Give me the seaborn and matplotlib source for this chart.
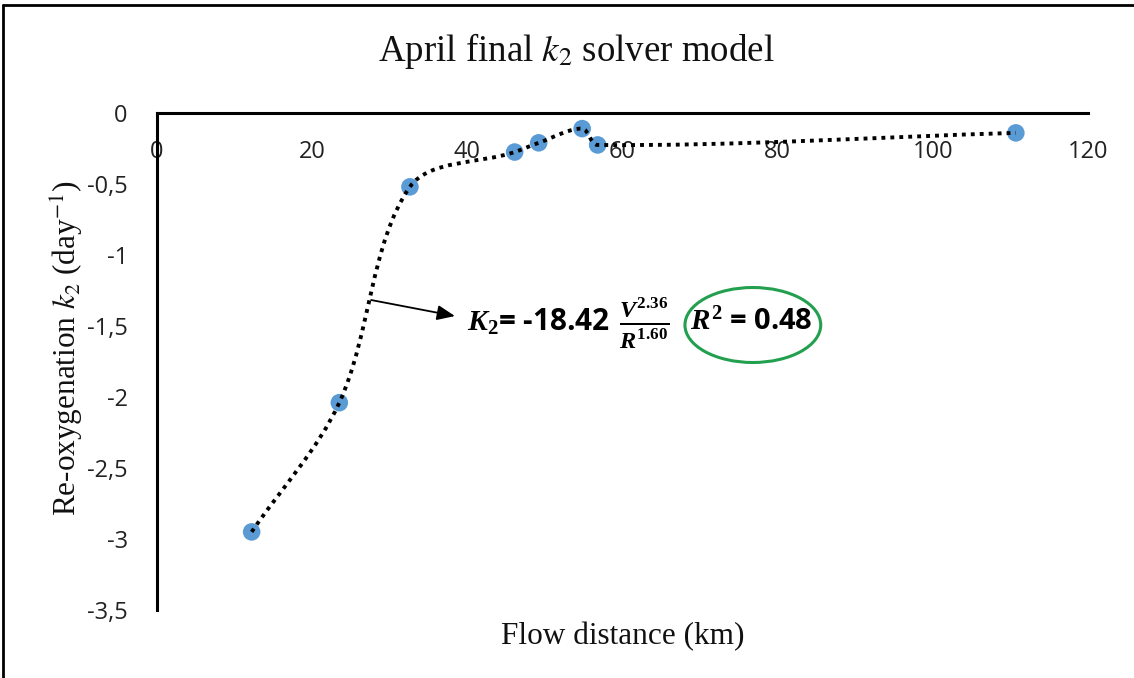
import numpy as np
import matplotlib
matplotlib.use("Agg")
import matplotlib.pyplot as plt
import seaborn as sns
from matplotlib.path import Path
from matplotlib.patches import PathPatch, Ellipse
from matplotlib.lines import Line2D
from matplotlib.ticker import FuncFormatter

# ---- data ----
distance_km = [12.2, 23.5, 32.6, 46.1, 49.2, 54.8, 56.8, 110.7]
k2_values = [-2.95, -2.04, -0.52, -0.275, -0.21, -0.11, -0.225, -0.14]
x_ticks = [0, 20, 40, 60, 80, 100, 120]
y_ticks = [0, -0.5, -1, -1.5, -2, -2.5, -3, -3.5]

title = "April final $k_2$ solver model"
xlabel = "Flow distance (km)"
ylabel = "Re-oxygenation $k_2$ (day$^{-1}$)"
formula_left = r"$K_2$= -18.42"
formula_frac = r"$\frac{V^{2.36}}{R^{1.60}}$"
formula_right = r"$R^2$ = 0.48"

sns.set_theme(style="white")
plt.rcParams['font.family'] = ['Open Sans', 'DejaVu Sans']
plt.rcParams['mathtext.fontset'] = 'custom'
plt.rcParams['mathtext.it'] = 'Liberation Serif:italic:bold'
plt.rcParams['mathtext.rm'] = 'Liberation Serif:bold'
plt.rcParams['mathtext.bf'] = 'Liberation Serif:italic:bold'

W, H = 1134, 678
fig = plt.figure(figsize=(W / 100, H / 100), dpi=100)
fig.patch.set_facecolor('white')
ax = fig.add_axes([157 / W, 1 - 610 / H, (1088 - 157) / W, (610 - 113) / H])
ax.set_xlim(0, 120)
ax.set_ylim(-3.5, 0)

# points
sns.scatterplot(x=distance_km, y=k2_values, color='#5B9BD5', s=160,
                edgecolor='none', zorder=3, ax=ax, legend=False)

# smoothed dotted line: Bezier through the data points (Excel-like smoothing),
# control points computed in display space with length-proportional tangents
disp = ax.transData.transform(np.column_stack([distance_km, k2_values]))
n = len(disp)
verts = [disp[0]]
codes = [Path.MOVETO]
for i in range(n - 1):
    p0 = disp[max(i - 1, 0)]
    p1 = disp[i]
    p2 = disp[i + 1]
    p3 = disp[min(i + 2, n - 1)]
    d01 = np.linalg.norm(p1 - p0)
    d12 = np.linalg.norm(p2 - p1)
    d23 = np.linalg.norm(p3 - p2)
    c1 = p1 + (p2 - p0) * (d12 / (d01 + d12)) / 3 if d01 > 0 else p1 + (p2 - p1) / 3
    c2 = p2 - (p3 - p1) * (d12 / (d12 + d23)) / 3 if d23 > 0 else p2 - (p2 - p1) / 3
    verts += [c1, c2, p2]
    codes += [Path.CURVE4] * 3
verts = ax.transData.inverted().transform(np.array(verts))
curve = PathPatch(Path(verts, codes), fill=False, edgecolor='black', lw=2.8,
                  linestyle=(0, (1, 1.3)), capstyle='butt', zorder=4)
ax.add_patch(curve)

ax.set_xticks(x_ticks)
ax.set_yticks(y_ticks)
fmt = FuncFormatter(lambda v, _: ('%g' % v).replace('.', ',') if abs(v) > 1e-9 else '0')
ax.xaxis.set_major_formatter(fmt)
ax.yaxis.set_major_formatter(fmt)
ax.tick_params(axis='both', length=0, labelsize=17, colors='#222222')
ax.tick_params(axis='x', pad=19.5)
ax.tick_params(axis='y', pad=21)

for s in ['right', 'top']:
    ax.spines[s].set_visible(False)
ax.spines['bottom'].set_position(('data', 0))
for s in ['left', 'bottom']:
    ax.spines[s].set_color('black')
    ax.spines[s].set_linewidth(2.2)
    ax.spines[s].set_zorder(6)

ax.set_xlabel(xlabel, fontsize=22.5, family='Liberation Serif', color='#111111')
ax.xaxis.set_label_coords(0.5, -0.054)
ax.xaxis.label.set_va('center')
ax.set_ylabel(ylabel, fontsize=22.5, family='Liberation Serif', color='#111111',
              math_fontfamily='stix')
ax.yaxis.set_label_coords(-0.0967, 0.527)
ax.yaxis.label.set_va('center')

ax.text(0.4505, (610 - 51) / 497, title, transform=ax.transAxes, fontsize=26.6,
        family='Liberation Serif', ha='center', va='center', color='#111111',
        math_fontfamily='stix')

# annotation
ax.annotate('', xy=(38.4, -1.43), xytext=(27.6, -1.317),
            arrowprops=dict(arrowstyle='-|>,head_length=0.9,head_width=0.38',
                            color='black', lw=1.3, shrinkA=0, shrinkB=0),
            zorder=5)
ax.text(39.96, -1.479, formula_left, fontsize=21.4, fontweight='bold', ha='left',
        va='center', color='black', math_fontfamily='custom', zorder=5)
ax.text(62.84, -1.479, formula_frac, fontsize=25, fontweight='bold', ha='center',
        va='center', color='black', math_fontfamily='custom', zorder=5)
ax.text(68.7, -1.479, formula_right, fontsize=21, fontweight='bold', ha='left',
        va='center', color='black', math_fontfamily='custom', zorder=5)
ax.add_patch(Ellipse((76.8, -1.493), width=17.5, height=0.528, fill=False,
                     edgecolor='#23A04F', lw=2.2, zorder=5))

# outer frame (left and top edges visible in the reference)
fig.add_artist(Line2D([3 / W, 3 / W], [0, 1 - 5 / H], color='black', lw=2,
                      transform=fig.transFigure))
fig.add_artist(Line2D([3 / W, 1], [1 - 5 / H, 1 - 5 / H], color='black', lw=2,
                      transform=fig.transFigure))

fig.savefig('out.png', dpi=100)
